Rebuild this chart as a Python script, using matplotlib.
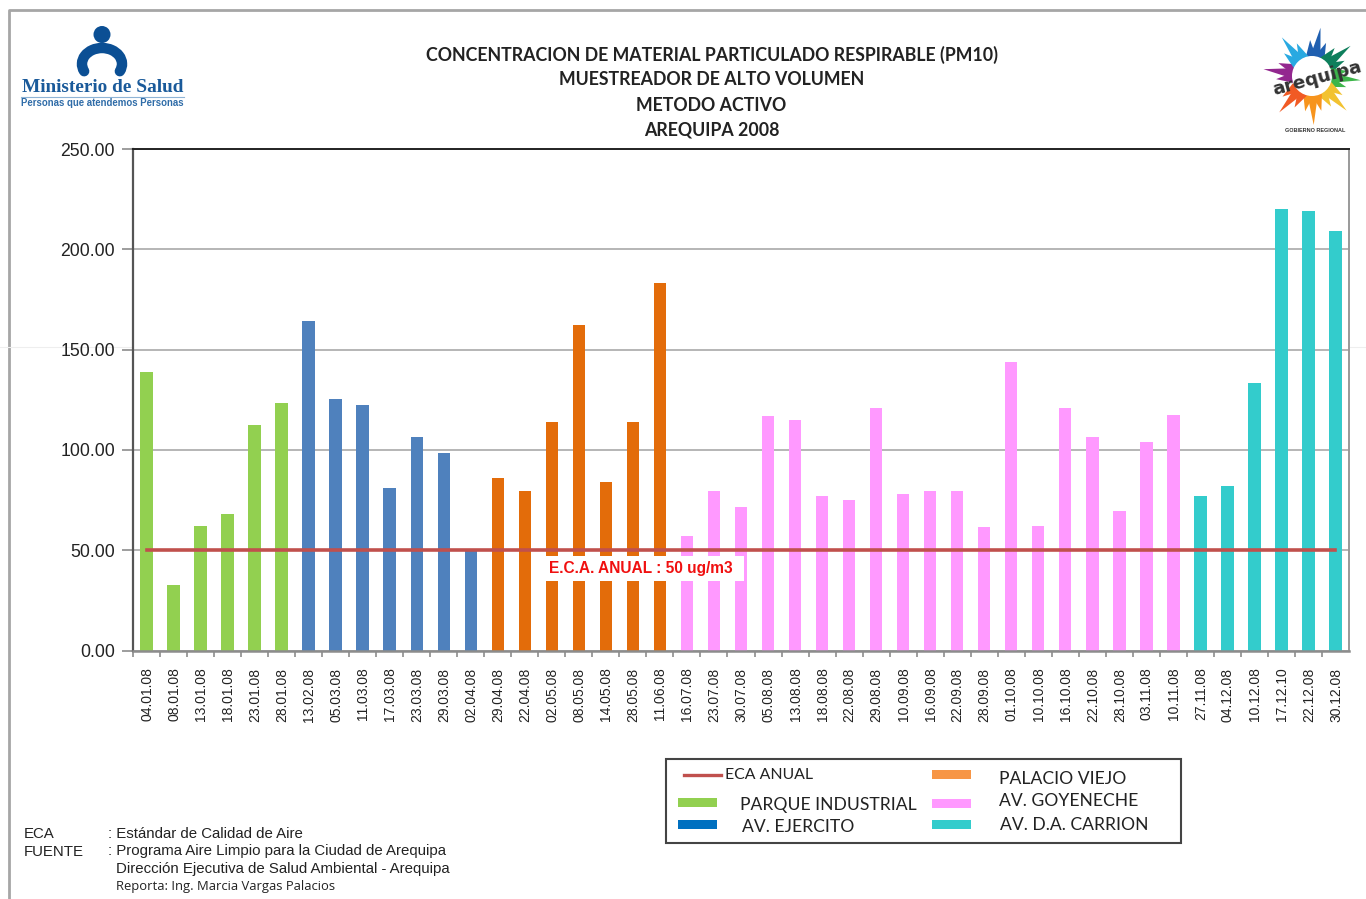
import numpy as np
import matplotlib
matplotlib.use("Agg")
import matplotlib.pyplot as plt
from matplotlib.patches import Rectangle, Circle, Polygon, Arc

title_lines = ["CONCENTRACION DE MATERIAL PARTICULADO RESPIRABLE (PM10)",
               "MUESTREADOR DE ALTO VOLUMEN", "METODO ACTIVO", "AREQUIPA 2008"]

parque_dates = ["04.01.08", "08.01.08", "13.01.08", "18.01.08", "23.01.08", "28.01.08"]
parque_vals = [139, 32.5, 62, 68, 112.5, 123.5]
ejercito_dates = ["13.02.08", "05.03.08", "11.03.08", "17.03.08", "23.03.08", "29.03.08", "02.04.08"]
ejercito_vals = [164.5, 125.5, 122.5, 81, 106.5, 98.5, 50]
palacio_dates = ["29.04.08", "22.04.08", "02.05.08", "08.05.08", "14.05.08", "28.05.08", "11.06.08"]
palacio_vals = [86, 79.5, 114, 162.5, 84, 114, 183]
goyeneche_dates = ["16.07.08", "23.07.08", "30.07.08", "05.08.08", "13.08.08", "18.08.08", "22.08.08",
                   "29.08.08", "10.09.08", "16.09.08", "22.09.08", "28.09.08", "01.10.08", "10.10.08",
                   "16.10.08", "22.10.08", "28.10.08", "03.11.08", "10.11.08"]
goyeneche_vals = [57, 79.5, 71.5, 117, 115, 77, 75, 121, 78, 79.5, 79.5, 61.5, 144, 62, 121, 106.5, 69.5, 104, 117.5]
carrion_dates = ["27.11.08", "04.12.08", "10.12.08", "17.12.10", "22.12.08", "30.12.08"]
carrion_vals = [77, 82, 133.5, 220, 219, 209]
eca_value = 50

series = [("PARQUE INDUSTRIAL", parque_dates, parque_vals, "#92D050"),
          ("AV. EJERCITO", ejercito_dates, ejercito_vals, "#4F81BD"),
          ("PALACIO VIEJO", palacio_dates, palacio_vals, "#E36C0A"),
          ("AV. GOYENECHE", goyeneche_dates, goyeneche_vals, "#FF99FF"),
          ("AV. D.A. CARRION", carrion_dates, carrion_vals, "#33CCCC")]

W, H = 1366, 899
fig = plt.figure(figsize=(W / 100, H / 100), dpi=100, facecolor="white")

# Pixel-coordinate overlay for page furniture
pg = fig.add_axes([0, 0, 1, 1], zorder=0)
pg.set_xlim(0, W); pg.set_ylim(H, 0); pg.axis("off")
pg.plot([9, 9, W], [H, 10, 10], color="#a6a6a6", lw=2)
pg.plot([0, W], [347, 347], color="#eeeeee", lw=0.8)

for txt, y in zip(title_lines, [55, 79.5, 105.5, 130]):
    pg.text(711.5, y, txt, ha="center", va="center", fontsize=12.8, family="Lato",
            fontweight="bold", color="#222222")

# Ministerio logo
blue = "#0B4F94"
pg.add_patch(Circle((102, 34.5), 8.5, color=blue, lw=0))
pg.add_patch(Arc((102, 64), 40, 32, theta1=158, theta2=382, color=blue, lw=7.5, capstyle="round"))
pg.text(102.5, 88, "Ministerio de Salud", ha="center", va="center", family="Liberation Serif",
        fontweight="bold", fontsize=13.9, color="#1A5A9A")
pg.plot([21, 184], [96.5, 96.5], color="#8FB4D6", lw=0.8)
pg.text(102.5, 103.5, "Personas que atendemos Personas", ha="center", va="center",
        family="Liberation Sans", fontweight="bold", fontsize=6.95, color="#2F6CA8")

# Arequipa logo: coloured star points around a ring
logo_c = (1312, 76)
logo_cols = ["#1F5FB0", "#0E7F5C", "#3DB54A", "#F2C230", "#F7941D", "#F15A24", "#93278F", "#29A9E1"]
logo_ang = [80, 38, -5, -45, -88, -132, 172, 128]
for col, a in zip(logo_cols, logo_ang):
    for da, r in [(-13, 36), (0, 49), (13, 36)]:
        t = np.radians(a + da)
        t1, t2 = t - np.radians(15), t + np.radians(15)
        pts = [(logo_c[0] + 20 * np.cos(t1), logo_c[1] - 20 * np.sin(t1)),
               (logo_c[0] + r * np.cos(t), logo_c[1] - r * np.sin(t)),
               (logo_c[0] + 20 * np.cos(t2), logo_c[1] - 20 * np.sin(t2))]
        pg.add_patch(Polygon(pts, closed=True, color=col, lw=0))
pg.add_patch(Circle(logo_c, 20, color="white", lw=0))
pg.text(1317, 78.5, "arequipa", ha="center", va="center", rotation=15, family="DejaVu Sans",
        fontweight="bold", fontsize=13.2, color="#333333")
pg.text(1315, 131, "GOBIERNO REGIONAL", ha="center", va="center", fontsize=4.0,
        family="Liberation Sans", fontweight="bold", color="#333333")

# Chart
ax = fig.add_axes([133 / W, 1 - 650.5 / H, (1349 - 133) / W, (650.5 - 149) / H], zorder=1)
dates = [d for s in series for d in s[1]]
x = np.arange(len(dates))
pos = 0
for name, ds, vals, col in series:
    ax.bar(x[pos:pos + len(ds)], vals, width=0.46, color=col, lw=0, zorder=2)
    pos += len(ds)
ax.plot([x[0], x[-1]], [eca_value, eca_value], color="#C0504D", lw=2.6, zorder=3)
ax.set_xlim(-0.5, len(dates) - 0.5)
ax.set_ylim(0, 250)
ax.set_yticks(np.arange(0, 251, 50))
ax.set_yticklabels([f"{v:.2f}" for v in np.arange(0, 251, 50)], family="Liberation Sans",
                   fontsize=12.7, color="#222222")
ax.yaxis.grid(True, color="#b5b5b5", lw=1.4, zorder=1)
ax.set_axisbelow(True)
ax.set_xticks(x - 0.5, minor=False)
ax.set_xticklabels([""] * len(x))
ax.tick_params(axis="x", length=4, color="#8c8c8c", width=1.2)
ax.tick_params(axis="y", length=8, color="#8c8c8c", width=1.2, pad=5)
for xi, d in zip(x, dates):
    ax.annotate(d, (xi, 0), xytext=(0.5, -17), textcoords="offset pixels", rotation=90, ha="center",
                va="top", family="Liberation Sans", fontsize=10.0, color="#222222",
                annotation_clip=False)
ax.spines["top"].set_color("#222222"); ax.spines["top"].set_linewidth(1.4)
ax.spines["left"].set_color("#555555"); ax.spines["left"].set_linewidth(1.6)
ax.spines["right"].set_color("#999999"); ax.spines["right"].set_linewidth(1.4)
ax.spines["bottom"].set_color("#8c8c8c"); ax.spines["bottom"].set_linewidth(1.8)

# ECA data label
ov = fig.add_axes([0, 0, 1, 1], zorder=2)
ov.set_xlim(0, W); ov.set_ylim(H, 0); ov.axis("off"); ov.patch.set_alpha(0)
ov.add_patch(Rectangle((541, 556), 203, 25, color="white", lw=0))
ov.text(640.5, 568.5, "E.C.A. ANUAL : 50 ug/m3", ha="center", va="center", color="#F01010",
        fontweight="bold", family="Liberation Sans", fontsize=11.2)

# Legend
ov.add_patch(Rectangle((666, 759), 515, 84, fc="white", ec="#444444", lw=1.5))
leg_font = dict(family="Lato", fontsize=12.6, color="#222222", va="center")
ov.plot([684, 721], [774.5, 774.5], color="#C0504D", lw=2.4)
ov.text(725, 775, "ECA ANUAL", **dict(leg_font, fontsize=11.4))
legend_items = [(series[0], 678, 798, 740, 805), (series[1], 678, 820, 742, 826.5),
                (series[2], 932, 770, 999, 778.5), (series[3], 932, 799, 999, 800.5),
                (series[4], 932, 820, 1000, 825)]
lg_cols = {"PARQUE INDUSTRIAL": "#92D050", "AV. EJERCITO": "#0070C0", "PALACIO VIEJO": "#F79646",
           "AV. GOYENECHE": "#FF99FF", "AV. D.A. CARRION": "#33CCCC"}
for s, bx, by, tx, ty in legend_items:
    ov.add_patch(Rectangle((bx, by), 38.5, 9, color=lg_cols[s[0]], lw=0))
    ov.text(tx, ty, s[0], **leg_font)

# Footnotes
nf = dict(family="Liberation Sans", fontsize=10.8, color="#222222", va="center")
ov.text(24, 834, "ECA", **nf)
ov.text(108, 834, ": Estándar de Calidad de Aire", **nf)
ov.text(24, 851.5, "FUENTE", **nf)
ov.text(108, 851.5, ": Programa Aire Limpio para la Ciudad de Arequipa", **nf)
ov.text(115.5, 869, "Dirección Ejecutiva de Salud Ambiental - Arequipa", **nf)
ov.text(115.5, 886.5, "Reporta: Ing. Marcia Vargas Palacios", family="Open Sans", fontsize=9.4,
        color="#222222", va="center")

fig.savefig("out.png", dpi=100)
